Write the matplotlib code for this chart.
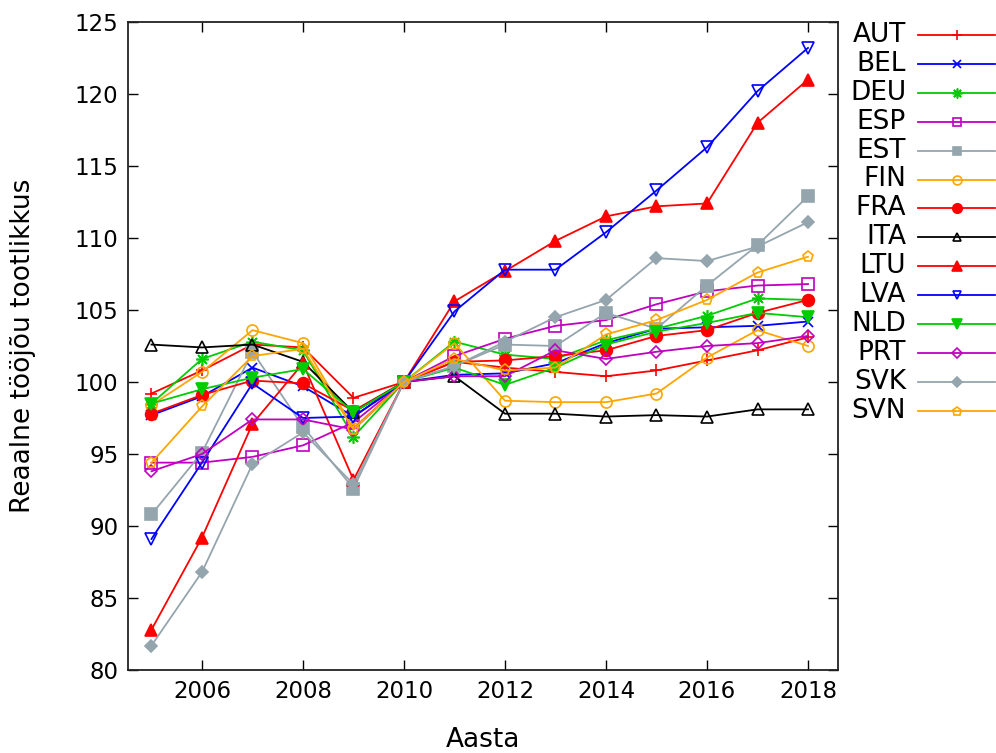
import matplotlib
matplotlib.use("Agg")
import matplotlib.pyplot as plt
from matplotlib.lines import Line2D

years = list(range(2005, 2019))

# real labour productivity index, 2010 = 100
countries = ["AUT", "BEL", "DEU", "ESP", "EST", "FIN", "FRA",
             "ITA", "LTU", "LVA", "NLD", "PRT", "SVK", "SVN"]

aut = [99.2, 100.8, 102.6, 102.4, 98.9, 100.0, 101.4, 101.0, 100.7, 100.4, 100.8, 101.5, 102.2, 103.1]
bel = [97.7, 99.0, 101.0, 99.7, 97.6, 100.0, 100.5, 100.6, 101.3, 102.7, 103.7, 103.8, 103.9, 104.2]
deu = [98.5, 101.6, 102.8, 102.2, 96.2, 100.0, 102.8, 101.9, 101.6, 102.9, 103.7, 104.6, 105.8, 105.7]
esp = [94.4, 94.4, 94.8, 95.6, 97.2, 100.0, 101.8, 103.0, 103.9, 104.3, 105.4, 106.3, 106.7, 106.8]
est = [90.8, 95.1, 102.1, 96.9, 92.6, 100.0, 101.1, 102.6, 102.5, 104.8, 103.7, 106.7, 109.5, 112.9]
fin = [98.4, 100.7, 103.6, 102.7, 96.8, 100.0, 102.7, 98.7, 98.6, 98.6, 99.2, 101.7, 103.6, 102.5]
fra = [97.8, 99.1, 100.1, 99.9, 98.0, 100.0, 101.4, 101.5, 101.8, 102.2, 103.2, 103.6, 104.8, 105.7]
ita = [102.6, 102.4, 102.6, 101.4, 97.9, 100.0, 100.4, 97.8, 97.8, 97.6, 97.7, 97.6, 98.1, 98.1]
ltu = [82.8, 89.2, 97.1, 101.3, 93.2, 100.0, 105.6, 107.7, 109.8, 111.5, 112.2, 112.4, 118.0, 121.0]
lva = [89.1, 94.4, 99.9, 97.5, 97.6, 100.0, 104.9, 107.8, 107.8, 110.4, 113.3, 116.3, 120.2, 123.2]
nld = [98.5, 99.5, 100.3, 100.9, 97.9, 100.0, 101.0, 99.8, 101.0, 102.6, 103.5, 104.1, 104.8, 104.5]
prt = [93.8, 95.0, 97.4, 97.4, 96.7, 100.0, 100.4, 100.4, 102.2, 101.6, 102.1, 102.5, 102.7, 103.2]
svk = [81.7, 86.8, 94.3, 96.5, 92.9, 100.0, 101.1, 102.8, 104.5, 105.7, 108.6, 108.4, 109.4, 111.1]
svn = [94.4, 98.3, 101.8, 102.3, 96.7, 100.0, 101.6, 100.8, 101.0, 103.3, 104.3, 105.7, 107.6, 108.7]

series = [aut, bel, deu, esp, est, fin, fra, ita, ltu, lva, nld, prt, svk, svn]

RED, BLUE, GREEN, PURPLE = "#ff0000", "#0000ff", "#00cc00", "#c000c0"
GRAY, ORANGE, BLACK = "#95a5ae", "#ffa500", "#000000"

# (colour, marker, filled, size)
styles = [
    (RED, "+", True, 9),
    (BLUE, "x", True, 7),
    (GREEN, (8, 2, 0), True, 9),
    (PURPLE, "s", False, 8),
    (GRAY, "s", True, 8),
    (ORANGE, "o", False, 8),
    (RED, "o", True, 8.5),
    (BLACK, "^", False, 8),
    (RED, "^", True, 8.5),
    (BLUE, "v", False, 8),
    (GREEN, "v", True, 8.5),
    (PURPLE, "D", False, 6),
    (GRAY, "D", True, 6),
    (ORANGE, "p", False, 8),
]

plt.rcParams["font.family"] = "DejaVu Sans"

fig = plt.figure(figsize=(9.96, 7.53), dpi=100)
ax = fig.add_axes([128 / 996, 1 - 670 / 753, 710 / 996, 648 / 753])


def marker_kw(col, mk, filled, ms):
    kw = dict(marker=mk, markersize=ms, markeredgecolor=col, markeredgewidth=1.2)
    kw["markerfacecolor"] = col if filled else "none"
    return kw


for vals, (col, mk, filled, ms) in zip(series, styles):
    ax.plot(years, vals, color=col, lw=1.3, **marker_kw(col, mk, filled, ms))

ax.set_xlim(2004.535, 2018.594)
ax.set_ylim(80, 125)
ax.set_xticks(range(2006, 2019, 2))
ax.set_yticks(range(80, 126, 5))
ax.tick_params(direction="in", length=7, width=1, top=True, right=True,
               labelsize=16.5, pad=7)
for sp in ax.spines.values():
    sp.set_linewidth(1.3)
    sp.set_color("#222222")

ax.set_xlabel("Aasta", fontsize=19)
ax.set_ylabel("Reaalne tööjõu tootlikkus", fontsize=19)
ax.xaxis.set_label_coords(0.5, -0.088)
ax.yaxis.set_label_coords(-0.13, 0.5)

# gnuplot-style key: right-aligned label followed by sample line
for i, (name, (col, mk, filled, ms)) in enumerate(zip(countries, styles)):
    yc = 1 - (35 + i * 28.9) / 753
    fig.text(906 / 996, yc, name, ha="right", va="center", fontsize=19)
    fig.add_artist(Line2D([918 / 996, 995 / 996], [yc, yc], color=col, lw=1.3,
                          transform=fig.transFigure))
    fig.add_artist(Line2D([957 / 996], [yc], linestyle="none",
                          transform=fig.transFigure,
                          **marker_kw(col, mk, filled, ms * 0.8)))

plt.savefig("out.png", dpi=100)
